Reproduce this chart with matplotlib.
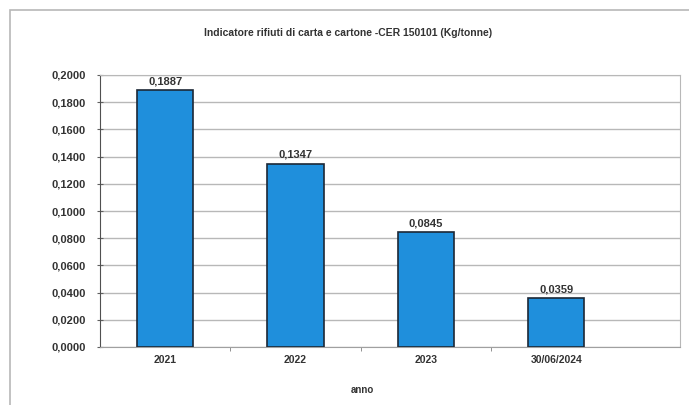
import matplotlib.pyplot as plt
from matplotlib.patches import Rectangle
from matplotlib.ticker import FuncFormatter, FixedLocator

plt.rcParams['font.family'] = ['Liberation Sans', 'DejaVu Sans']

categories = ['2021', '2022', '2023', '30/06/2024']
values = [0.1887, 0.1347, 0.0845, 0.0359]
title = 'Indicatore rifiuti di carta e cartone -CER 150101 (Kg/tonne)'

W, H = 689, 405
fig = plt.figure(figsize=(W / 100, H / 100), dpi=100)

# outer chart frame (runs off the right/bottom of the scan)
fig.patches.append(Rectangle((10 / W, -0.1), 1.2, 1 - 10 / H + 0.1,
                             transform=fig.transFigure, fill=False,
                             edgecolor='#b8b8b8', linewidth=1.2))

ax = fig.add_axes([100 / W, 1 - 347 / H, 580 / W, (347 - 75) / H])

x = list(range(len(categories)))
ax.bar(x, values, width=0.43, color='#1f8fdc', edgecolor='#1c2836',
       linewidth=1.2, zorder=3)

for xi, v in zip(x, values):
    ax.text(xi, v + 0.003, f'{v:.4f}'.replace('.', ','), ha='center',
            va='bottom', fontsize=8, fontweight='bold', color='#333333')

ax.set_ylim(0, 0.2)
ax.set_xlim(-0.5, 3.95)
ax.set_yticks([i * 0.02 for i in range(11)])
ax.yaxis.set_major_formatter(FuncFormatter(lambda v, p: f'{v:.4f}'.replace('.', ',')))
ax.grid(axis='y', color='#b8b8b8', linewidth=1, zorder=0)

ax.set_xticks(x)
ax.set_xticklabels(categories)
ax.xaxis.set_minor_locator(FixedLocator([0.5, 1.5, 2.5]))
ax.tick_params(axis='x', which='major', length=0, pad=6, labelsize=7.5,
               labelcolor='#333333')
ax.tick_params(axis='x', which='minor', length=3, color='#808080')
ax.tick_params(axis='y', length=4, direction='inout', color='#606060',
               labelsize=8, labelcolor='#333333', pad=8)
for t in ax.get_xticklabels() + ax.get_yticklabels():
    t.set_fontweight('bold')

for s in ['top', 'right']:
    ax.spines[s].set_color('#b8b8b8')
ax.spines['left'].set_color('#505050')
ax.spines['bottom'].set_color('#a0a0a0')

ax.set_xlabel('anno', fontsize=7, fontweight='bold', color='#333333')
ax.xaxis.set_label_coords((362 - 100) / 580, -(385 - 347) / (347 - 75))
fig.text(348 / W, 1 - 33 / H, title, ha='center', va='center',
         fontsize=7.5, fontweight='bold', color='#333333')

fig.savefig('out.png', dpi=100)
